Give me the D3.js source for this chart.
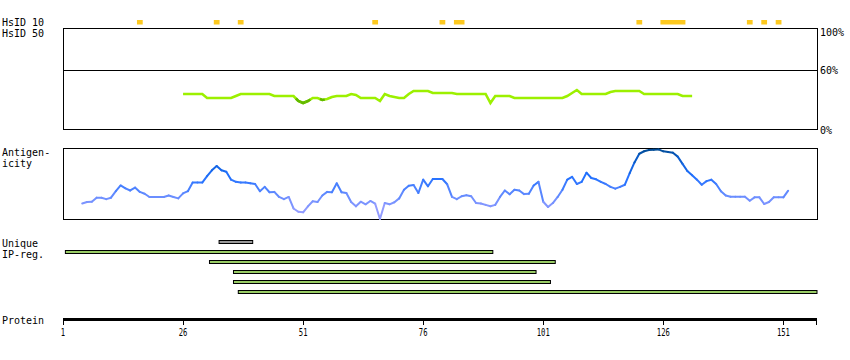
<!DOCTYPE html>
<html><head><meta charset="utf-8">
<script src="https://cdn.jsdelivr.net/npm/d3@7/dist/d3.min.js"></script>
<style>
body{margin:0;background:#fff}
svg{display:block}
text{font-family:"DejaVu Sans Mono",monospace;font-size:10px;fill:#000}
</style>
</head><body>
<svg id="c" width="850" height="360"></svg>
<script>
// ---------- data ----------
const proteinLength = 157;
const axisTicks = [1, 26, 51, 76, 101, 126, 151];

const hsid10Start = [17, 33, 38, 66, 80, 83, 121, 126, 144, 147, 150];
const hsid10End   = [17, 33, 38, 66, 80, 84, 121, 130, 144, 147, 150];

const hsid50Ticks = [100, 60, 0];
const hsid50Start = 26;
const hsid50Values = [
  36,36,36,36,36,32,32,32,32,32, // 26-35
  32,34,36,36,36,36,36,36,36,34, // 36-45
  34,34,34,34,29,27,29,32,32,30, // 46-55
  31,33,34,34,34,36,35,32,32,32, // 56-65
  32,29,36,34,33,32,32,36,39,39, // 66-75
  39,39,37,37,37,37,37,36,36,36, // 76-85
  36,36,36,36,27,34,34,34,34,32, // 86-95
  32,32,32,32,32,32,32,32,32,32, // 96-105
  34,37,40,36,36,36,36,36,36,38, // 106-115
  39,39,39,39,39,39,36,36,36,36, // 116-125
  36,36,36,36,34,34,34           // 126-132
];
const hsid50Dark = [50, 51, 52, 55];

const antigenStart = 5;
const antigenValues = [
  0.23,0.25,0.254,0.31,0.31,0.29,0.31,0.40,0.48,0.44,      // 5-14
  0.41,0.45,0.39,0.365,0.32,0.32,0.32,0.32,0.34,0.32,      // 15-24
  0.30,0.37,0.40,0.52,0.52,0.52,0.61,0.69,0.75,0.69,       // 25-34
  0.67,0.56,0.53,0.52,0.52,0.51,0.50,0.40,0.46,0.385,      // 35-44
  0.39,0.32,0.29,0.32,0.16,0.115,0.107,0.19,0.26,0.25,     // 45-54
  0.34,0.39,0.385,0.51,0.385,0.375,0.25,0.19,0.254,0.218,  // 55-64
  0.264,0.226,0.014,0.236,0.218,0.246,0.30,0.42,0.476,0.486, // 65-74
  0.375,0.56,0.468,0.57,0.57,0.57,0.496,0.32,0.29,0.33,    // 75-84
  0.345,0.33,0.236,0.23,0.21,0.19,0.21,0.32,0.41,0.357,    // 85-94
  0.42,0.41,0.36,0.365,0.48,0.53,0.254,0.18,0.236,0.32,    // 95-104
  0.42,0.56,0.60,0.50,0.53,0.657,0.583,0.565,0.53,0.50,    // 105-114
  0.46,0.435,0.46,0.49,0.65,0.80,0.92,0.955,0.972,0.976,   // 115-124
  0.98,0.954,0.945,0.935,0.88,0.78,0.68,0.62,0.56,0.49,    // 125-134
  0.54,0.56,0.50,0.40,0.34,0.324,0.324,0.324,0.324,0.268,  // 135-144
  0.315,0.315,0.222,0.25,0.315,0.315,0.315,0.407           // 145-152
];

const uniqueStart = [34];
const uniqueEnd   = [40];
const ipStart = [2, 32, 37, 37, 38];
const ipEnd   = [90, 103, 99, 102, 158];

// ---------- drawing ----------
const svg = d3.select("#c");
const x = d3.scaleLinear().domain([1, proteinLength + 1]).range([63, 817]);
const xMin = x.range()[0], xMax = x.range()[1];

// left labels
const labels = [
  ["HsID 10", 25.5], ["HsID 50", 36.5],
  ["Antigen-", 156], ["icity", 166.5],
  ["Unique", 246.5], ["IP-reg.", 257.5],
  ["Protein", 324]
];
svg.selectAll("text.lab").data(labels).join("text")
  .attr("class", "lab").attr("x", 2).attr("y", d => d[1]).text(d => d[0]);

// HsID 10 markers
svg.selectAll("rect.h10").data(d3.range(hsid10Start.length)).join("rect")
  .attr("class", "h10")
  .attr("x", i => x(hsid10Start[i] - 0.6))
  .attr("width", i => x(hsid10End[i] + 0.6) - x(hsid10Start[i] - 0.6))
  .attr("y", 20).attr("height", 4.5)
  .attr("fill", "#fdc91f");

// HsID 50 panel
const y50 = d3.scaleLinear().domain([0, 100]).range([130, 30]);
const g50 = svg.append("g");
g50.append("rect").attr("x", 63).attr("y", 28.5).attr("width", 754).attr("height", 101)
  .attr("fill", "none").attr("stroke", "#000").attr("shape-rendering", "crispEdges");
g50.append("line").attr("x1", 63).attr("x2", 817).attr("y1", y50(60)).attr("y2", y50(60))
  .attr("stroke", "#000").attr("shape-rendering", "crispEdges");
g50.selectAll("text").data(hsid50Ticks).join("text")
  .attr("x", 820).attr("y", d => d === 100 ? 36 : d === 60 ? 74 : 133.5)
  .text(d => d + "%");

const pts50 = hsid50Values.map((v, i) => [x(hsid50Start + i), y50(v)]);
g50.append("path").attr("d", d3.line()(pts50))
  .attr("fill", "none").attr("stroke", "#9cf000").attr("stroke-width", 2.6);
hsid50Dark.forEach(r => {
  const i = r - hsid50Start;
  g50.append("path").attr("d", d3.line()([pts50[i - 1], pts50[i], pts50[i + 1]].map((p, k) =>
      k === 1 ? p : [(p[0] + pts50[i][0]) / 2, (p[1] + pts50[i][1]) / 2])))
    .attr("fill", "none").attr("stroke", "#62b800").attr("stroke-width", 2.6);
});

// Antigenicity panel
const yA = d3.scaleLinear().domain([0, 1]).range([220, 148]);
const colA = d3.scaleLinear().domain([0, 0.3, 0.6, 0.85, 1])
  .range(["#aaa4ff", "#7090ff", "#2070ff", "#0a5ccc", "#004a8e"]);
const gA = svg.append("g");
gA.append("rect").attr("x", 63).attr("y", 148.5).attr("width", 754).attr("height", 71)
  .attr("fill", "none").attr("stroke", "#000").attr("shape-rendering", "crispEdges");
const segs = d3.range(antigenValues.length - 1);
gA.selectAll("line.seg").data(segs).join("line")
  .attr("class", "seg")
  .attr("x1", i => x(antigenStart + i)).attr("y1", i => yA(antigenValues[i]))
  .attr("x2", i => x(antigenStart + i + 1)).attr("y2", i => yA(antigenValues[i + 1]))
  .attr("stroke", i => colA((antigenValues[i] + antigenValues[i + 1]) / 2))
  .attr("stroke-width", 2).attr("stroke-linecap", "round");

// Unique / IP-reg bars
function barX(s) { return Math.max(xMin, x(s - 0.5)); }
function barX2(e) { return Math.min(xMax, x(e + 0.5)); }
svg.selectAll("rect.uq").data(d3.range(uniqueStart.length)).join("rect")
  .attr("class", "uq")
  .attr("x", i => barX(uniqueStart[i])).attr("width", i => barX2(uniqueEnd[i]) - barX(uniqueStart[i]))
  .attr("y", 240.5).attr("height", 3)
  .attr("fill", "#999").attr("stroke", "#000").attr("stroke-width", 1);
svg.selectAll("rect.ip").data(d3.range(ipStart.length)).join("rect")
  .attr("class", "ip")
  .attr("x", i => barX(ipStart[i])).attr("width", i => barX2(ipEnd[i]) - barX(ipStart[i]))
  .attr("y", i => 250.5 + i * 10).attr("height", 3)
  .attr("fill", "#9c6").attr("stroke", "#000").attr("stroke-width", 1);

// Protein axis
const gP = svg.append("g");
gP.append("rect").attr("x", xMin).attr("y", 318).attr("width", xMax - xMin).attr("height", 3).attr("fill", "#000");
gP.selectAll("rect.tk").data(axisTicks.map(x).concat([xMax - 1])).join("rect")
  .attr("class", "tk").attr("x", d => Math.round(d)).attr("y", 321).attr("width", 1).attr("height", 4)
  .attr("fill", "#000");
gP.selectAll("text.tl").data(axisTicks).join("text")
  .attr("class", "tl")
  .attr("transform", d => `translate(${x(d)},336) scale(0.72,1)`)
  .attr("text-anchor", "middle").text(d => d);
</script>
</body></html>
